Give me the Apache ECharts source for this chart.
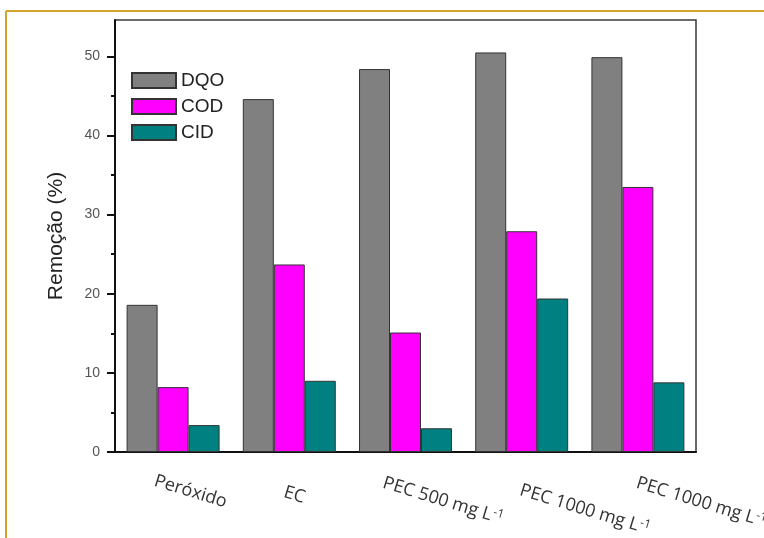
<!DOCTYPE html>
<html>
<head>
<meta charset="utf-8">
<script src="https://cdn.jsdelivr.net/npm/echarts@6/dist/echarts.min.js"></script>
<style>html,body{margin:0;padding:0;background:#fff;}#c{width:764px;height:538px;}</style>
</head>
<body>
<div id="c"></div>
<script>
const categories = ['Peróxido', 'EC', 'PEC 500 mg L-1', 'PEC 1000 mg L-1', 'PEC 1000 mg L-1'];
const seriesNames = ['DQO', 'COD', 'CID'];
const dqo = [18.6, 44.6, 48.4, 50.5, 49.9];
const cod = [8.2, 23.7, 15.1, 27.9, 33.5];
const cid = [3.4, 9.0, 3.0, 19.4, 8.8];
const yTickLabels = [0, 10, 20, 30, 40, 50];
const yMinorTicks = [5, 15, 25, 35, 45];

// label placement tweaks (layout only): [top, left] padding
const labelPad = [[8, -18], [22, -2], [14, -21], [16, 1], [2, -1]];

const chart = echarts.init(document.getElementById('c'), null, {renderer: 'canvas'});
const colors = ['#808080', '#ff00ff', '#008080'];
const values = [dqo, cod, cid];

const option = {
  animation: false,
  backgroundColor: '#fff',
  grid: {left: 115, top: 20, right: 68, bottom: 86, show: true, borderColor: '#3a3a3a', borderWidth: 1.5, outerBoundsMode: 'none', containLabel: false},
  legend: {
    orient: 'vertical', left: 126, top: 66,
    itemWidth: 44, itemHeight: 15, itemGap: 7,
    icon: 'rect',
    textStyle: {fontSize: 19, color: '#222', fontFamily: 'Liberation Sans, Arial', lineHeight: 19},
    data: seriesNames
  },
  xAxis: [{
    type: 'category',
    data: categories.map((c, i) => ({value: c, textStyle: {padding: [labelPad[i][0], 0, 0, labelPad[i][1]]}})),
    axisLine: {lineStyle: {color: '#111', width: 2}},
    axisTick: {alignWithLabel: true, length: 8, lineStyle: {color: '#111', width: 2}},
    axisLabel: {
      interval: 0, rotate: -17, margin: 30,
      fontFamily: 'Open Sans', fontSize: 18, color: '#333',
      formatter: v => v.replace('L-1', 'L{sup|-1}'),
      rich: {sup: {fontSize: 12, fontFamily: 'Open Sans', color: '#333', verticalAlign: 'top', padding: [0, 0, 8, 1]}}
    },
    splitLine: {show: false}
  }, {
    type: 'category',
    data: categories,
    position: 'bottom',
    axisLine: {show: false},
    axisTick: {length: 4, lineStyle: {color: '#111', width: 2}},
    axisLabel: {show: false},
    splitLine: {show: false}
  }],
  yAxis: [{
    type: 'value', min: 0, max: 54.6, interval: 10,
    name: 'Remoção (%)', nameLocation: 'middle', nameGap: 48,
    nameTextStyle: {fontSize: 21, color: '#222', fontFamily: 'Liberation Sans, Arial'},
    axisLine: {show: true, lineStyle: {color: '#111', width: 2}},
    axisTick: {show: true, length: 8, customValues: yTickLabels, lineStyle: {color: '#111', width: 2}},
    axisLabel: {customValues: yTickLabels, margin: 15, fontSize: 14, color: '#555', fontFamily: 'Liberation Sans, Arial'},
    splitLine: {show: false}
  }, {
    type: 'value', min: 0, max: 54.6, position: 'left',
    axisLine: {show: false},
    axisTick: {show: true, length: 4, customValues: yMinorTicks, lineStyle: {color: '#111', width: 2}},
    axisLabel: {show: false},
    splitLine: {show: false}
  }],
  series: seriesNames.map((n, i) => ({
    name: n, type: 'bar', xAxisIndex: 0, yAxisIndex: 0,
    data: values[i],
    barGap: '0%', barCategoryGap: '20%',
    itemStyle: {color: colors[i], borderColor: '#333', borderWidth: 1}
  })),
  graphic: [
    {type: 'line', shape: {x1: 6, y1: 11, x2: 764, y2: 11}, style: {stroke: '#d4a32c', lineWidth: 2}, z: 100},
    {type: 'line', shape: {x1: 6, y1: 11, x2: 6, y2: 538}, style: {stroke: '#d4a32c', lineWidth: 2}, z: 100}
  ]
};
chart.setOption(option);
</script>
</body>
</html>
